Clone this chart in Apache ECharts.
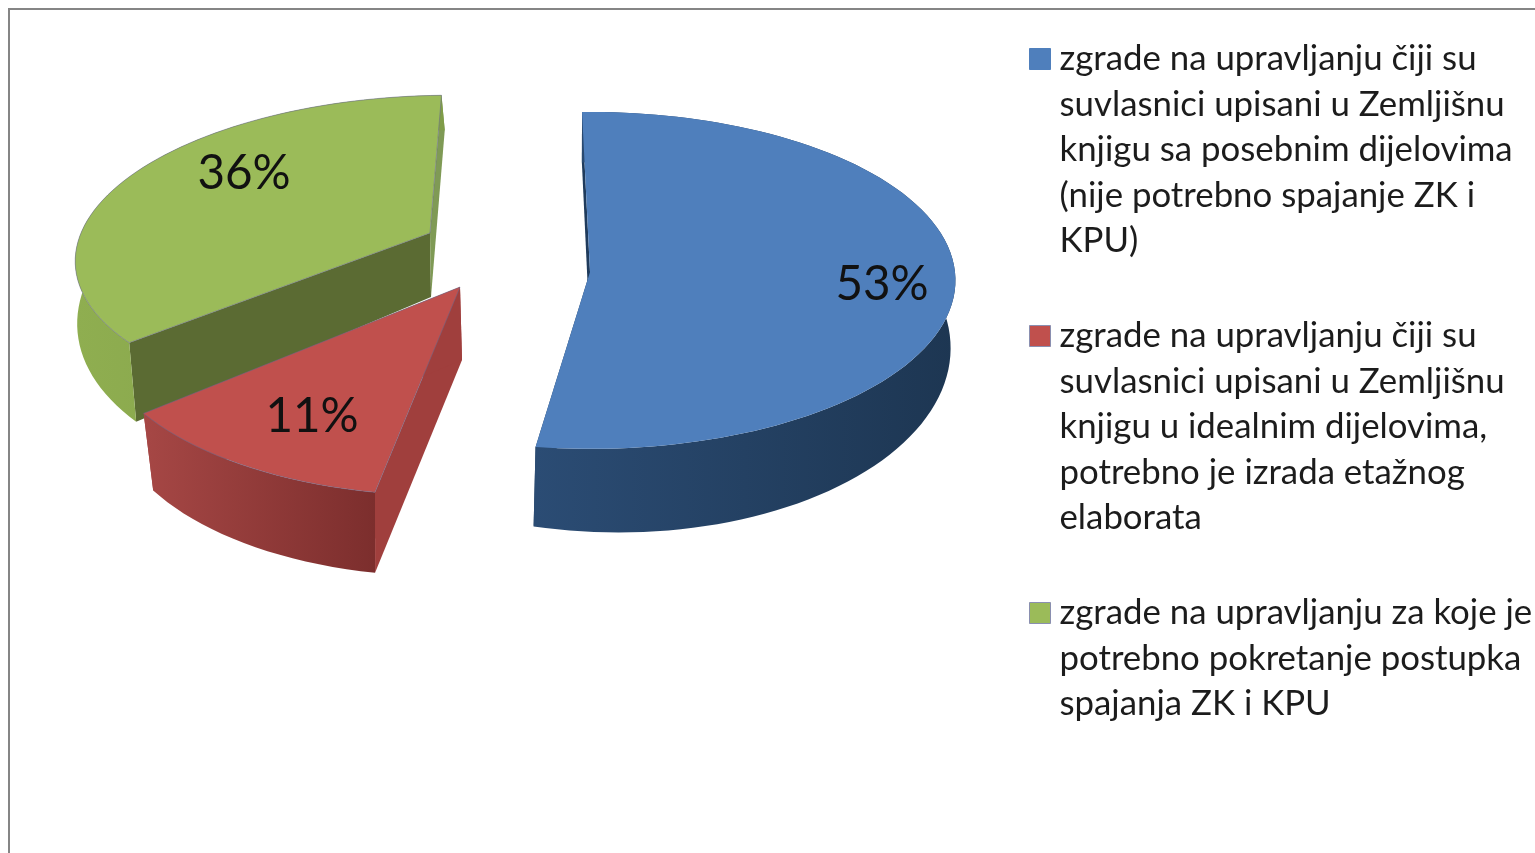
<!DOCTYPE html>
<html>
<head>
<meta charset="utf-8">
<style>
html, body { margin: 0; padding: 0; background: #fff; }
#main { width: 1535px; height: 853px; }
</style>
<script src="https://cdn.jsdelivr.net/npm/echarts@6/dist/echarts.min.js"></script>
</head>
<body>
<div id="main"></div>
<script>
var categories = [
  'zgrade na upravljanju čiji su\nsuvlasnici upisani u Zemljišnu\nknjigu sa posebnim dijelovima\n(nije potrebno spajanje ZK i\nKPU)',
  'zgrade na upravljanju čiji su\nsuvlasnici upisani u Zemljišnu\nknjigu u idealnim dijelovima,\npotrebno je izrada etažnog\nelaborata',
  'zgrade na upravljanju za koje je\npotrebno pokretanje postupka\nspajanja ZK i KPU'
];
var values = [53, 11, 36];
var topColors = ['#4f7fbc', '#c0504d', '#9bbb59'];
var startFace = ['#1f3b5c', '#a03f3d', '#5b6b33'];
var endFace = ['#1f3b5c', '#a03f3d', '#7f9a55'];
var sideLeft = ['#2b4c74', '#a64745', '#8fae50'];
var sideRight = ['#1d3652', '#7c2e2d', '#7f9c48'];

var startAngle = -1.5;
var lineH = 45.5;
var legendX = 1029;
var legendY = [59, 336, 613];

// top and bottom rim of every slice, the picture is a tilted pie so each one has its own projection
var rims = [
  {
    top: { x: 590, y: 272, rx: 365, ry: 168, k: 0.05, m: 0, sh: 0, w: -3.6 },
    bottom: { x: 590, y: 335, rx: 331, ry: 184, k: 0.065, m: -0.08, sh: 0, w: 0 },
    label: [882, 285], z: 3
  },
  {
    top: { x: 460, y: 287, rx: 355, ry: 167, k: 0.2, m: 0, sh: 11, w: 0 },
    bottom: { x: 462, y: 360, rx: 341, ry: 171, k: 0.21, m: 0, sh: 14, w: 0 },
    label: [312, 417], z: 2
  },
  {
    top: { x: 430, y: 233, rx: 349, ry: 154, k: 0.118, m: 0, sh: 22, w: 0 },
    bottom: { x: 431, y: 297, rx: 350, ry: 180, k: 0.079, m: 0, sh: 24, w: 0 },
    label: [244, 174], z: 1
  }
];

var total = values.reduce(function (a, b) { return a + b; }, 0);
var angles = [];
var run = startAngle;
values.forEach(function (v) {
  angles.push([run, run + v / total * 360]);
  run += v / total * 360;
});

function project(p, deg) {
  var t = (deg + p.w * Math.sin(2 * deg * Math.PI / 180)) * Math.PI / 180;
  var s = Math.sin(t), c = Math.cos(t);
  var d = 1 + p.k * c + p.m * s;
  return [p.x + (p.rx * s + p.sh * c) / d, p.y - p.ry * c / d];
}

function arc(p, a0, a1) {
  var pts = [];
  var n = Math.ceil((a1 - a0) / 2);
  for (var i = 0; i <= n; i++) {
    pts.push(project(p, a0 + (a1 - a0) * i / n));
  }
  return pts;
}

function sliceItem(idx) {
  return function (params, api) {
    var r = rims[idx];
    var a0 = angles[idx][0], a1 = angles[idx][1];
    var topArc = arc(r.top, a0, a1);
    var botArc = arc(r.bottom, a0, a1);
    var apexT = [r.top.x, r.top.y];
    var apexB = [r.bottom.x, r.bottom.y];
    return {
      type: 'group',
      children: [
        {
          type: 'polygon',
          shape: { points: [topArc[0], apexT, apexB, botArc[0]] },
          style: { fill: startFace[idx] }
        },
        {
          type: 'polygon',
          shape: { points: [topArc[topArc.length - 1], apexT, apexB, botArc[botArc.length - 1]] },
          style: { fill: endFace[idx] }
        },
        {
          type: 'polygon',
          shape: { points: topArc.concat(botArc.slice().reverse()) },
          style: {
            fill: new echarts.graphic.LinearGradient(0, 0, 1, 0, [
              { offset: 0, color: sideLeft[idx] },
              { offset: 1, color: sideRight[idx] }
            ])
          }
        },
        {
          type: 'polygon',
          shape: { points: topArc.concat([apexT]) },
          style: { fill: topColors[idx], stroke: idx ? 'rgba(105,105,140,0.55)' : null, lineWidth: 1 }
        },
        {
          type: 'text',
          style: {
            x: r.label[0], y: r.label[1],
            text: api.value(0) + '%',
            fill: '#111',
            font: '47.5px Lato',
            align: 'center',
            verticalAlign: 'middle'
          }
        }
      ]
    };
  };
}

var chart = echarts.init(document.getElementById('main'));

chart.setOption({
  animation: false,
  backgroundColor: '#fff',
  tooltip: { show: false },
  legend: categories.map(function (name, i) {
    var n = name.split('\n').length;
    return {
      data: [name],
      selectedMode: false,
      orient: 'vertical',
      left: legendX,
      top: legendY[i] - (n - 0.5) * lineH,
      padding: 0,
      itemWidth: 21,
      itemHeight: 21,
      icon: 'rect',
      itemStyle: { borderColor: i ? '#8a8fb0' : '#4f7fbc', borderWidth: 1 },
      // blank lines in front keep the first real line next to the icon
      formatter: function (text) {
        return new Array(n).join('\n') + text;
      },
      textStyle: {
        fontFamily: 'Lato',
        fontSize: 34.8,
        color: '#1c1c1c',
        lineHeight: lineH,
        padding: [0, 0, 0, 4]
      }
    };
  }),
  graphic: [{
    type: 'rect',
    silent: true,
    shape: { x: 9, y: 9, width: 1600, height: 900 },
    style: { fill: 'none', stroke: '#858585', lineWidth: 2 }
  }],
  series: categories.map(function (name, i) {
    return {
      type: 'custom',
      name: name,
      coordinateSystem: 'none',
      z: rims[i].z,
      clip: false,
      itemStyle: { color: topColors[i] },
      renderItem: sliceItem(i),
      data: [[values[i]]]
    };
  })
});
</script>
</body>
</html>
